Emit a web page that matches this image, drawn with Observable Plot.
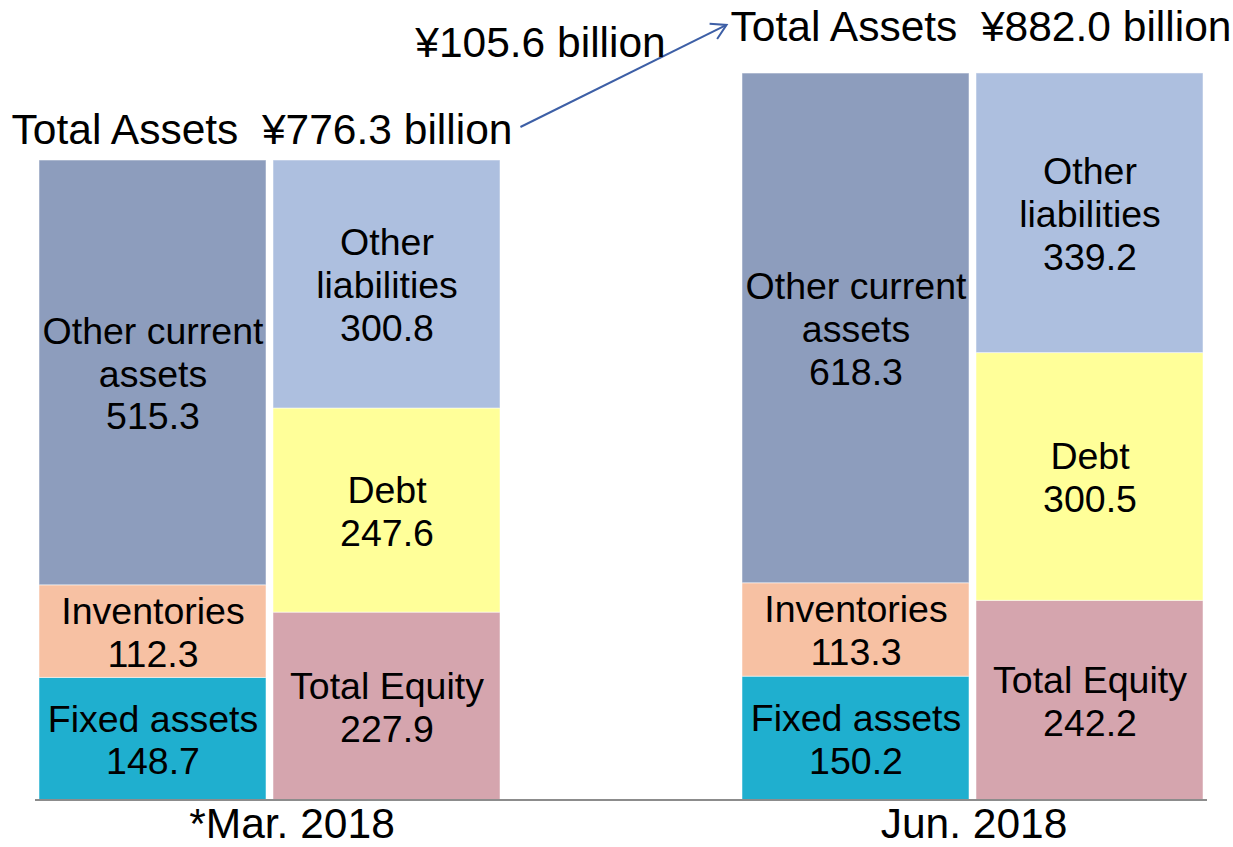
<!DOCTYPE html>
<html>
<head>
<meta charset="utf-8">
<script src="https://cdn.jsdelivr.net/npm/d3@7"></script>
<script src="https://cdn.jsdelivr.net/npm/@observablehq/plot@0.6"></script>
<style>
  html, body { margin: 0; padding: 0; background: white; }
  svg text { white-space: pre; }
</style>
</head>
<body>
<script>
const dates = ["*Mar. 2018", "Jun. 2018"];
const sides = ["Assets", "Liabilities"];
const assetItems = ["Fixed assets", "Inventories", "Other current assets"];
const liabItems = ["Total Equity", "Debt", "Other liabilities"];
const assetLabels = ["Fixed assets", "Inventories", "Other current\nassets"];
const liabLabels = ["Total Equity", "Debt", "Other\nliabilities"];
const marAssets = [148.7, 112.3, 515.3];
const marLiab = [227.9, 247.6, 300.8];
const junAssets = [150.2, 113.3, 618.3];
const junLiab = [242.2, 300.5, 339.2];
const totals = [776.3, 882.0];
const totalLabels = ["Total Assets  ¥776.3 billion", "Total Assets  ¥882.0 billion"];
const changeLabel = "¥105.6 billion";
const itemColors = ["#1fafcf", "#f7c1a3", "#8d9dbd", "#d5a5ae", "#ffff99", "#adbfdf"];

const rows = [];
dates.forEach((date, i) => {
  const a = i === 0 ? marAssets : junAssets;
  const l = i === 0 ? marLiab : junLiab;
  assetItems.forEach((item, j) => rows.push({date, side: "Assets", item, label: assetLabels[j], value: a[j]}));
  liabItems.forEach((item, j) => rows.push({date, side: "Liabilities", item, label: liabLabels[j], value: l[j]}));
});
const titleRows = dates.map((date, i) => ({date, total: totals[i], label: totalLabels[i]}));

const FS_BIG = 42.5;
const FS_SEG = 37.5;
const font = "'Liberation Sans', Arial, Helvetica, sans-serif";

const plot = Plot.plot({
  width: 1233,
  height: 847,
  marginTop: 0,
  marginBottom: 47,
  marginLeft: 39,
  marginRight: 29,
  style: {fontFamily: font, background: "white", overflow: "visible", color: "black"},
  fx: {domain: dates, paddingInner: 0.344, paddingOuter: 0, axis: null},
  x: {domain: sides, paddingInner: 0.03, paddingOuter: 0, axis: null},
  y: {domain: [0, 970.4], axis: null},
  color: {domain: [...assetItems, ...liabItems], range: itemColors},
  marks: [
    Plot.rectY(rows, {fx: "date", x: "side", y: "value", fill: "item", stroke: "white", strokeOpacity: 0.5, strokeWidth: 1}),
    Plot.text(rows, Plot.stackY({
      fx: "date", x: "side", y: "value",
      text: d => d.label + "\n" + d.value.toFixed(1),
      fontSize: FS_SEG, lineHeight: 1.14, fill: "black"
    })),
    Plot.text(titleRows.slice(0, 1), {fx: "date", y: "total", text: "label", lineAnchor: "bottom", dx: -8, dy: -17, fontSize: FS_BIG, fill: "black"}),
    Plot.text(titleRows.slice(1), {fx: "date", y: "total", text: "label", lineAnchor: "bottom", dx: 8, dy: -32, fontSize: FS_BIG, fill: "black"}),
    Plot.text(titleRows.slice(0, 1), {fx: "date", frameAnchor: "bottom", text: "date", lineAnchor: "bottom", dx: 22, dy: 37, fontSize: FS_BIG, fill: "black"}),
    Plot.text(titleRows.slice(1), {fx: "date", frameAnchor: "bottom", text: "date", lineAnchor: "bottom", dx: 1, dy: 37, fontSize: FS_BIG, fill: "black"})
  ]
});
document.body.append(plot);

// baseline axis line across the whole chart
const svg = d3.select(plot);
const yScale = plot.scale("y");
const y0 = yScale.apply(0);
svg.append("line")
  .attr("x1", 39 - 4).attr("x2", 1233 - 29 + 3)
  .attr("y1", y0).attr("y2", y0)
  .attr("stroke", "#8c8c8c").attr("stroke-width", 2);

// arrow between the two totals
const svgRect = plot.getBoundingClientRect();
const titleNodes = svg.selectAll("text").filter(function () {
  return this.textContent.startsWith("Total Assets");
}).nodes();
if (titleNodes.length >= 2) {
  const r1 = titleNodes[0].getBoundingClientRect();
  const r2 = titleNodes[1].getBoundingClientRect();
  const sx = r1.right - svgRect.left + 8, sy = (r1.top + r1.bottom) / 2 - svgRect.top - 2;
  const ex = r2.left - svgRect.left - 4, ey = (r2.top + r2.bottom) / 2 - svgRect.top - 2;
  const ang = Math.atan2(ey - sy, ex - sx);
  const hl = 17, ha = Math.PI / 6;
  const color = "#3d5fa6";
  svg.append("path")
    .attr("d", `M${sx},${sy}L${ex},${ey}`)
    .attr("stroke", color).attr("stroke-width", 2).attr("fill", "none");
  svg.append("path")
    .attr("d", `M${ex - hl * Math.cos(ang - ha)},${ey - hl * Math.sin(ang - ha)}L${ex},${ey}L${ex - hl * Math.cos(ang + ha)},${ey - hl * Math.sin(ang + ha)}`)
    .attr("stroke", color).attr("stroke-width", 2).attr("fill", "none").attr("stroke-linejoin", "miter");
  const mx = (sx + ex) / 2, my = (sy + ey) / 2;
  svg.append("text")
    .attr("x", mx - 83).attr("y", my - 19)
    .attr("text-anchor", "middle")
    .attr("font-size", FS_BIG)
    .attr("font-family", font)
    .attr("fill", "black")
    .text(changeLabel);
}
</script>
</body>
</html>
